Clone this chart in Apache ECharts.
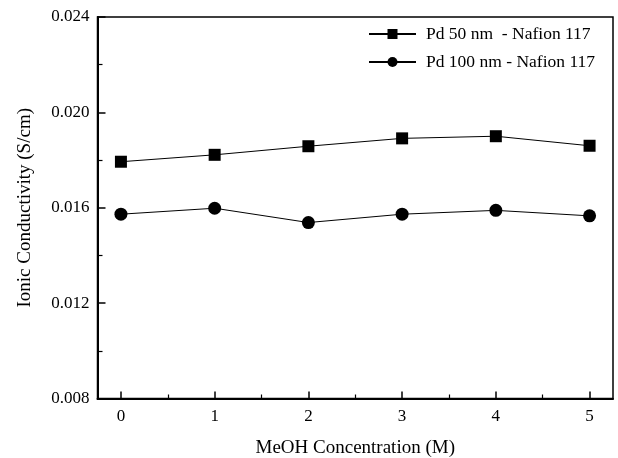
<!DOCTYPE html>
<html>
<head>
<meta charset="utf-8">
<script src="https://cdn.jsdelivr.net/npm/echarts@6/dist/echarts.min.js"></script>
<style>
html,body{margin:0;padding:0;background:#fff;}
#chart{width:618px;height:458px;}
</style>
</head>
<body>
<div id="chart"></div>
<script>
var concentrations = [0, 1, 2, 3, 4, 5];
var pd50 = [0.01793, 0.01822, 0.01858, 0.01891, 0.01900, 0.01860];
var pd100 = [0.01573, 0.01598, 0.01538, 0.01573, 0.01589, 0.01566];
var xTicks = [0, 1, 2, 3, 4, 5];
var xMinorTicks = [0.5, 1.5, 2.5, 3.5, 4.5];
var seriesNames = ['Pd 50 nm  - Nafion 117', 'Pd 100 nm - Nafion 117'];

var FONT = '"Liberation Serif", "Times New Roman", serif';
function pairs(xs, ys) { return xs.map(function (x, i) { return [x, ys[i]]; }); }

var chart = echarts.init(document.getElementById('chart'), null, {renderer: 'canvas'});
chart.setOption({
  backgroundColor: '#fff',
  animation: false,
  grid: {left: 97.5, right: 5, top: 17, bottom: 59.5, show: true, borderColor: '#000', borderWidth: 1.5, backgroundColor: 'transparent', containLabel: false, outerBoundsMode: 'none'},
  legend: {
    orient: 'vertical', left: 363, top: 20, itemWidth: 47, itemHeight: 12.5, itemGap: 10,
    textStyle: {fontFamily: FONT, fontSize: 17.5, color: '#000', padding: [0, 0, 0, 5]},
    data: seriesNames
  },
  xAxis: [{
    type: 'value', min: -0.25, max: 5.25,
    name: 'MeOH Concentration (M)', nameLocation: 'middle', nameGap: 40,
    nameTextStyle: {fontFamily: FONT, fontSize: 19, color: '#000'},
    axisLine: {show: true, onZero: false, lineStyle: {color: '#000', width: 2}},
    axisTick: {show: true, inside: true, length: 7, customValues: xTicks, lineStyle: {color: '#000', width: 1.5}},
    axisLabel: {customValues: xTicks, fontFamily: FONT, fontSize: 17, color: '#000', margin: 10},
    splitLine: {show: false}
  }, {
    type: 'value', min: -0.25, max: 5.25, position: 'bottom',
    axisLine: {show: false, onZero: false},
    axisTick: {show: true, inside: true, length: 4, customValues: xMinorTicks, lineStyle: {color: '#000', width: 1.2}},
    axisLabel: {show: false, customValues: xMinorTicks},
    splitLine: {show: false}
  }],
  yAxis: {
    type: 'value', min: 0.008, max: 0.024, interval: 0.004,
    name: 'Ionic Conductivity (S/cm)', nameLocation: 'middle', nameGap: 63,
    nameTextStyle: {fontFamily: FONT, fontSize: 19, color: '#000'},
    axisLine: {show: true, onZero: false, lineStyle: {color: '#000', width: 2}},
    axisTick: {show: true, inside: true, length: 8, lineStyle: {color: '#000', width: 1.5}},
    minorTick: {show: true, splitNumber: 2, length: 5, lineStyle: {color: '#000', width: 1.2}},
    axisLabel: {fontFamily: FONT, fontSize: 17, color: '#000', margin: 8, formatter: function (v) { return v.toFixed(3); }},
    splitLine: {show: false},
    minorSplitLine: {show: false}
  },
  series: [{
    name: seriesNames[0], type: 'line', xAxisIndex: 0,
    data: pairs(concentrations, pd50),
    symbol: 'rect', symbolSize: 12,
    lineStyle: {color: '#000', width: 1},
    itemStyle: {color: '#000'}
  }, {
    name: seriesNames[1], type: 'line', xAxisIndex: 0,
    data: pairs(concentrations, pd100),
    symbol: 'circle', symbolSize: 13,
    lineStyle: {color: '#000', width: 1},
    itemStyle: {color: '#000'}
  }]
});
</script>
</body>
</html>
